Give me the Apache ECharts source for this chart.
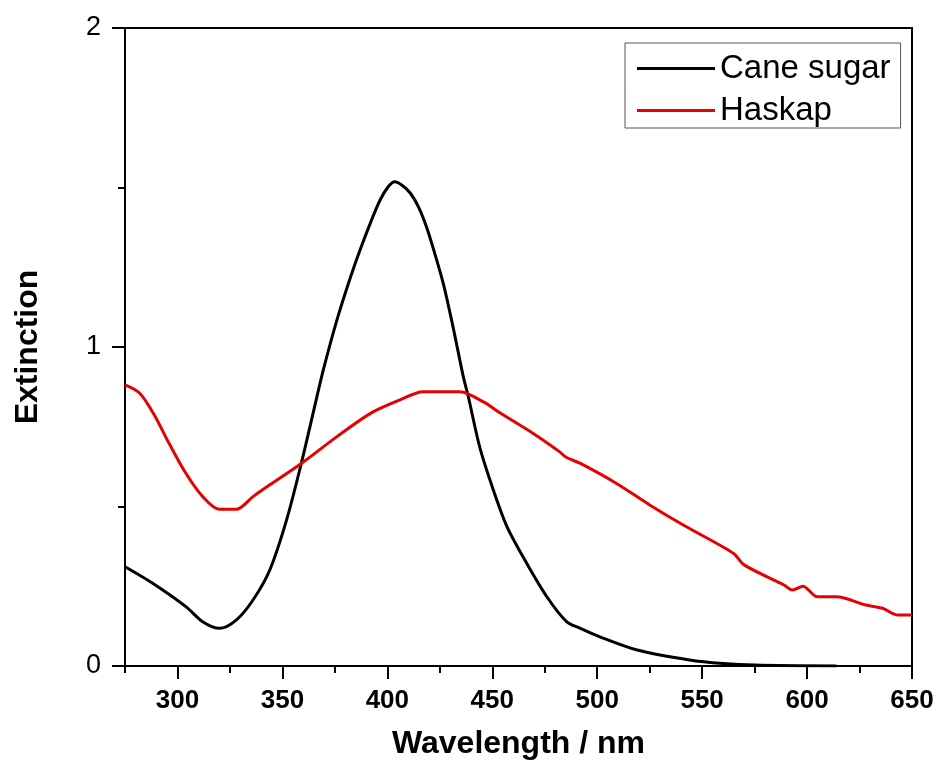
<!DOCTYPE html>
<html>
<head>
<meta charset="utf-8">
<script src="https://cdn.jsdelivr.net/npm/echarts@6/dist/echarts.min.js"></script>
<style>html,body{margin:0;padding:0;background:#fff;}#c{width:937px;height:770px;}</style>
</head>
<body>
<div id="c"></div>
<script>
const caneWl  = [275, 288, 304, 312, 320, 328, 336, 344, 352, 359, 365, 369.5, 376, 382, 387, 392, 396.5, 400.5, 403.6, 407, 411, 415, 419, 423.5, 427, 431.4, 436.2, 438.6, 444, 450.5, 457, 466.4, 476, 485.4, 492, 501, 519, 544, 560, 575, 614];
const caneVal = [0.311, 0.26, 0.186, 0.139, 0.118, 0.144, 0.207, 0.301, 0.458, 0.635, 0.803, 0.928, 1.085, 1.21, 1.304, 1.39, 1.46, 1.503, 1.518, 1.507, 1.482, 1.437, 1.37, 1.273, 1.19, 1.06, 0.907, 0.844, 0.687, 0.552, 0.437, 0.322, 0.217, 0.139, 0.118, 0.092, 0.050, 0.019, 0.008, 0.003, 0.0];
const haskapWl  = [275, 282, 288.5, 296, 304, 312, 320, 328, 336, 344, 359, 376, 392, 406, 417, 425, 434.6, 446, 454, 469.5, 482, 485, 492, 509, 525, 541, 565, 570, 589, 593, 598, 605, 614, 628, 636, 643, 650];
const haskapVal = [0.881, 0.855, 0.792, 0.698, 0.604, 0.531, 0.491, 0.491, 0.531, 0.568, 0.635, 0.719, 0.792, 0.834, 0.860, 0.860, 0.860, 0.827, 0.792, 0.729, 0.672, 0.655, 0.635, 0.573, 0.505, 0.442, 0.353, 0.317, 0.254, 0.238, 0.25, 0.217, 0.217, 0.191, 0.181, 0.160, 0.160];
const xMajorTicks = [300, 350, 400, 450, 500, 550, 600, 650];
const xMinorTicks = [275, 325, 375, 425, 475, 525, 575, 625];
const seriesNames = ['Cane sugar', 'Haskap'];

const FONT = 'Arial, "Liberation Sans", sans-serif';
const chart = echarts.init(document.getElementById('c'));
const pairs = (xs, ys) => xs.map((x, i) => [x, ys[i]]);

chart.setOption({
  animation: false,
  backgroundColor: '#fff',
  grid: { left: 125, top: 28, right: 25, bottom: 104, show: true, borderColor: '#000', borderWidth: 2, backgroundColor: 'transparent' },
  legend: {
    orient: 'vertical', left: 625, top: 43,
    padding: [9, 10, 1, 12], itemGap: 9,
    itemWidth: 78, itemHeight: 3, icon: 'rect',
    borderColor: '#555', borderWidth: 1,
    textStyle: { fontFamily: FONT, fontSize: 33, color: '#000' },
    data: seriesNames
  },
  xAxis: [{
    type: 'value', min: 275, max: 650,
    name: 'Wavelength / nm', nameLocation: 'middle', nameGap: 62,
    nameTextStyle: { fontFamily: FONT, fontSize: 32, fontWeight: 'bold', color: '#000' },
    axisLine: { show: true, onZero: false, lineStyle: { color: '#000', width: 2 } },
    axisTick: { show: true, length: 13, lineStyle: { color: '#000', width: 2 }, customValues: xMajorTicks },
    axisLabel: { fontFamily: FONT, fontSize: 26, fontWeight: 'bold', color: '#000', margin: 22, customValues: xMajorTicks },
    splitLine: { show: false }
  }, {
    type: 'value', min: 275, max: 650, position: 'bottom',
    axisLine: { show: false },
    axisTick: { show: true, length: 7, lineStyle: { color: '#000', width: 2 }, customValues: xMinorTicks },
    axisLabel: { show: false },
    splitLine: { show: false }
  }],
  yAxis: {
    type: 'value', min: 0, max: 2, interval: 1,
    name: 'Extinction', nameLocation: 'middle', nameGap: 81,
    nameTextStyle: { fontFamily: FONT, fontSize: 32, fontWeight: 'bold', color: '#000' },
    axisLine: { show: true, lineStyle: { color: '#000', width: 2 } },
    axisTick: { show: true, length: 13, lineStyle: { color: '#000', width: 2 } },
    minorTick: { show: true, splitNumber: 2, length: 7, lineStyle: { color: '#000', width: 2 } },
    axisLabel: { fontFamily: FONT, fontSize: 27, color: '#000', margin: 24 },
    splitLine: { show: false }
  },
  series: [{
    name: seriesNames[0], type: 'line', xAxisIndex: 0, data: pairs(caneWl, caneVal),
    symbol: 'none', smooth: 0.3, lineStyle: { color: '#000', width: 3 }, itemStyle: { color: '#000' }
  }, {
    name: seriesNames[1], type: 'line', xAxisIndex: 0, data: pairs(haskapWl, haskapVal),
    symbol: 'none', smooth: 0.3, lineStyle: { color: '#e60000', width: 3 }, itemStyle: { color: '#e60000' }
  }]
});
</script>
</body>
</html>
